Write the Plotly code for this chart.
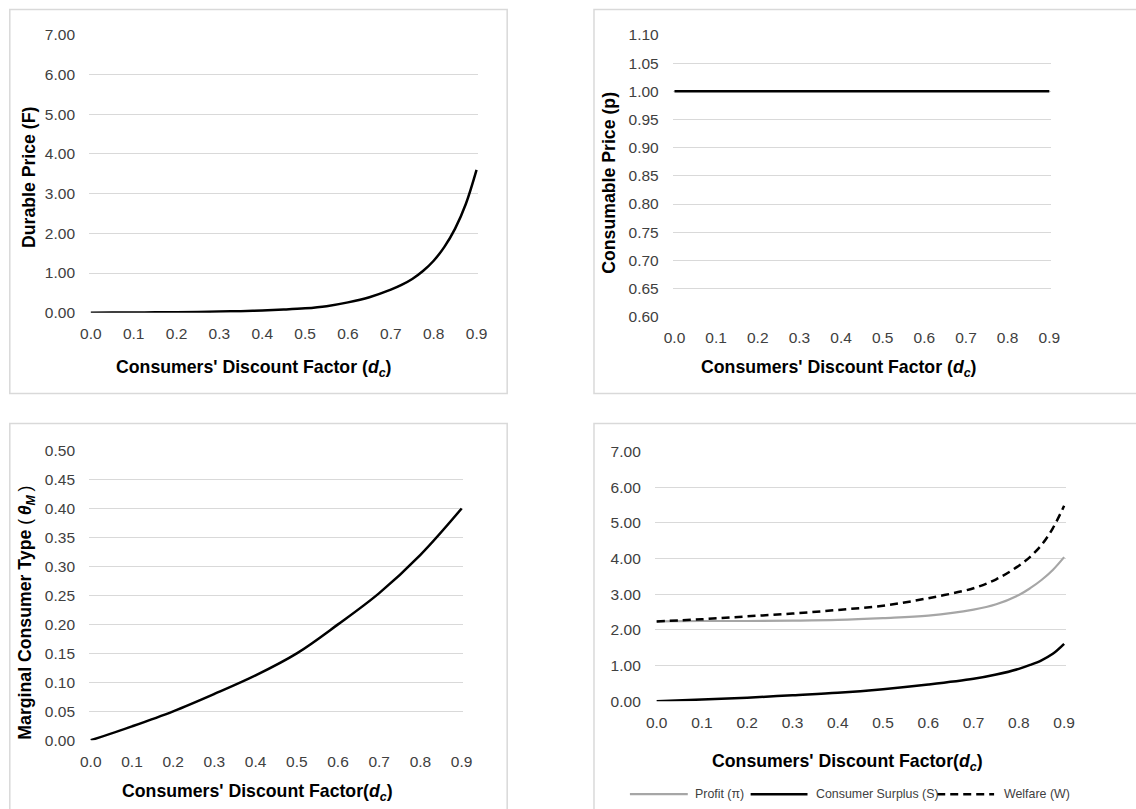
import plotly.graph_objects as go

W, H = 1136, 809

# ---------------- data ----------------
d_price = [0.0, 0.05, 0.1, 0.15, 0.2, 0.25, 0.3, 0.35, 0.4, 0.45, 0.5, 0.55, 0.6, 0.65, 0.7,
           0.725, 0.75, 0.775, 0.8, 0.825, 0.85, 0.875, 0.9]
durable_price = [0.0, 0.002, 0.005, 0.009, 0.014, 0.02, 0.028, 0.039, 0.055, 0.078, 0.11, 0.165, 0.26,
                 0.39, 0.58, 0.70, 0.85, 1.05, 1.31, 1.66, 2.12, 2.74, 3.60]

d_coarse = [0.0, 0.1, 0.2, 0.3, 0.4, 0.5, 0.6, 0.7, 0.8, 0.9]
consumable_price = [1.0, 1.0, 1.0, 1.0, 1.0, 1.0, 1.0, 1.0, 1.0, 1.0]
marginal_type = [0.0, 0.024, 0.05, 0.08, 0.112, 0.15, 0.2, 0.254, 0.32, 0.40]

d_welfare = [0.0, 0.1, 0.2, 0.3, 0.4, 0.5, 0.6, 0.7, 0.75, 0.8, 0.825, 0.85, 0.875, 0.9]
profit = [2.24, 2.25, 2.25, 2.26, 2.28, 2.33, 2.40, 2.57, 2.72, 2.98, 3.17, 3.40, 3.68, 4.04]
consumer_surplus = [0.0, 0.05, 0.10, 0.17, 0.24, 0.34, 0.47, 0.63, 0.75, 0.91, 1.02, 1.15, 1.33, 1.61]
welfare = [2.24, 2.30, 2.38, 2.46, 2.56, 2.68, 2.89, 3.17, 3.42, 3.80, 4.05, 4.38, 4.85, 5.48]

x_ticks = [0.0, 0.1, 0.2, 0.3, 0.4, 0.5, 0.6, 0.7, 0.8, 0.9]
x_tick_text = ["0.0", "0.1", "0.2", "0.3", "0.4", "0.5", "0.6", "0.7", "0.8", "0.9"]

legend_names = ["Profit (π)", "Consumer Surplus (S)", "Welfare (W)"]

FONT = "Liberation Sans, Arial, sans-serif"
TICK_COLOR = "#404040"
GRID = "#d9d9d9"

# The page shows the figure inside an 8 px frame, so screen pixels are mapped onto
# the paper area that is actually visible.
OX, OY, VW, VH = 7.7, 8.0, 1120.5, 792.8


def px(x):
    return (x - OX) / VW


def py(y):
    return 1 - (y - OY) / VH


fig = go.Figure()

line_black = dict(color="#000000", width=2.5, shape="spline", smoothing=1.0)
styles = [
    dict(color="#a6a6a6", width=2.2, shape="spline", smoothing=1.0),
    dict(color="#000000", width=2.5, shape="spline", smoothing=1.0),
    dict(color="#000000", width=2.5, dash="8px,5px", shape="spline", smoothing=1.0),
]

fig.add_trace(go.Scatter(x=d_price, y=durable_price, mode="lines", line=line_black,
                         xaxis="x", yaxis="y", showlegend=False))
fig.add_trace(go.Scatter(x=d_coarse, y=consumable_price, mode="lines", line=line_black,
                         xaxis="x2", yaxis="y2", showlegend=False))
fig.add_trace(go.Scatter(x=d_coarse, y=marginal_type, mode="lines", line=line_black,
                         xaxis="x3", yaxis="y3", showlegend=False))
for name, ys, st in zip(legend_names, [profit, consumer_surplus, welfare], styles):
    fig.add_trace(go.Scatter(x=d_welfare, y=ys, mode="lines", name=name, line=st,
                             xaxis="x4", yaxis="y4", showlegend=False))


def xaxis(dom, anchor):
    return dict(domain=dom, anchor=anchor, range=[-0.004, 0.904], tickmode="array",
                tickvals=x_ticks, ticktext=x_tick_text, showgrid=False, zeroline=False,
                showline=False, ticks="outside", ticklen=7, tickcolor="rgba(0,0,0,0)",
                tickfont=dict(family=FONT, size=15.5, color=TICK_COLOR), fixedrange=True)


def yaxis(dom, anchor, rng, dtick, fmt):
    return dict(domain=dom, anchor=anchor, range=rng, dtick=dtick, tick0=rng[0], tickformat=fmt,
                showgrid=True, gridcolor=GRID, gridwidth=1.2, zeroline=False, showline=False,
                ticks="outside", ticklen=10, tickcolor="rgba(0,0,0,0)",
                tickfont=dict(family=FONT, size=15.5, color=TICK_COLOR), fixedrange=True)


p1 = dict(x0=88, x1=478, ytop=34, ybot=312)
p2 = dict(x0=673, x1=1052, ytop=34, ybot=316)
p3 = dict(x0=88, x1=463, ytop=450, ybot=740)
p4 = dict(x0=655, x1=1067, ytop=451, ybot=701)

fig.update_layout(
    width=W, height=H, margin=dict(l=0, r=0, t=0, b=0),
    paper_bgcolor="white", plot_bgcolor="white",
    font=dict(family=FONT, color="#000000"),
    xaxis=xaxis([px(p1["x0"]), px(p1["x1"])], "y"),
    yaxis=yaxis([py(p1["ybot"]), py(p1["ytop"])], "x", [0, 7.0001], 1, ".2f"),
    xaxis2=xaxis([px(p2["x0"]), px(p2["x1"])], "y2"),
    yaxis2=yaxis([py(p2["ybot"]), py(p2["ytop"])], "x2", [0.6, 1.1001], 0.05, ".2f"),
    xaxis3=xaxis([px(p3["x0"]), px(p3["x1"])], "y3"),
    yaxis3=yaxis([py(p3["ybot"]), py(p3["ytop"])], "x3", [0, 0.50001], 0.05, ".2f"),
    xaxis4=xaxis([px(p4["x0"]), px(p4["x1"])], "y4"),
    yaxis4=yaxis([py(p4["ybot"]), py(p4["ytop"])], "x4", [0, 7.0001], 1, ".2f"),
    showlegend=False,
)

# panel frames
borders = [(8.5, 8.5, 507, 393), (594, 8.5, 1140, 393), (8.5, 423, 507, 815), (594, 423, 1140, 815)]
for x0, y0, x1, y1 in borders:
    fig.add_shape(type="rect", xref="paper", yref="paper", x0=px(x0), x1=px(x1), y0=py(y0), y1=py(y1),
                  line=dict(color="#d9d9d9", width=1.5), fillcolor="rgba(0,0,0,0)", layer="below")

# legend of the bottom-right panel (line samples + labels)
legend_items = [(630, 688, 693), (751, 808, 815), (938, 995, 1003)]
for (lx0, lx1, tx), name, st in zip(legend_items, legend_names, styles):
    ln = dict(color=st["color"], width=st["width"])
    if "dash" in st:
        ln["dash"] = st["dash"]
    fig.add_shape(type="line", xref="paper", yref="paper", x0=px(lx0), x1=px(lx1),
                  y0=py(794), y1=py(794), line=ln)
    fig.add_annotation(xref="paper", yref="paper", x=px(tx), y=py(794), text=name, showarrow=False,
                       xanchor="left", yanchor="middle",
                       font=dict(family=FONT, size=12.4, color="#404040"))

TITLE_FONT = dict(family=FONT, size=17.7, color="#000000")
xt1 = "<b>Consumers' Discount Factor (<i>d</i><sub><i>c</i></sub>)</b>"
xt2 = "<b>Consumers' Discount Factor(<i>d</i><sub><i>c</i></sub>)</b>"
annots = [
    (253, 368, xt1, 0),
    (840, 368, xt1, 0),
    (257, 792, xt2, 0),
    (848, 762, xt2, 0),
    (28, 176, "<b>Durable Price (F)</b>", -90),
    (609, 182, "<b>Consumable Price (p)</b>", -90),
    (25, 612, "<b>Marginal Consumer Type</b> (\u2009<b><i>θ</i><sub><i>M</i></sub></b>\u2009)", -90),
]
for x, y, t, ang in annots:
    fig.add_annotation(xref="paper", yref="paper", x=px(x), y=py(y), text=t, showarrow=False,
                       textangle=ang, xanchor="center", yanchor="middle", font=TITLE_FONT)

fig.write_html("out.html", config={"displayModeBar": False},
               post_script="document.body.style.margin='0';document.body.style.overflow='hidden';")
